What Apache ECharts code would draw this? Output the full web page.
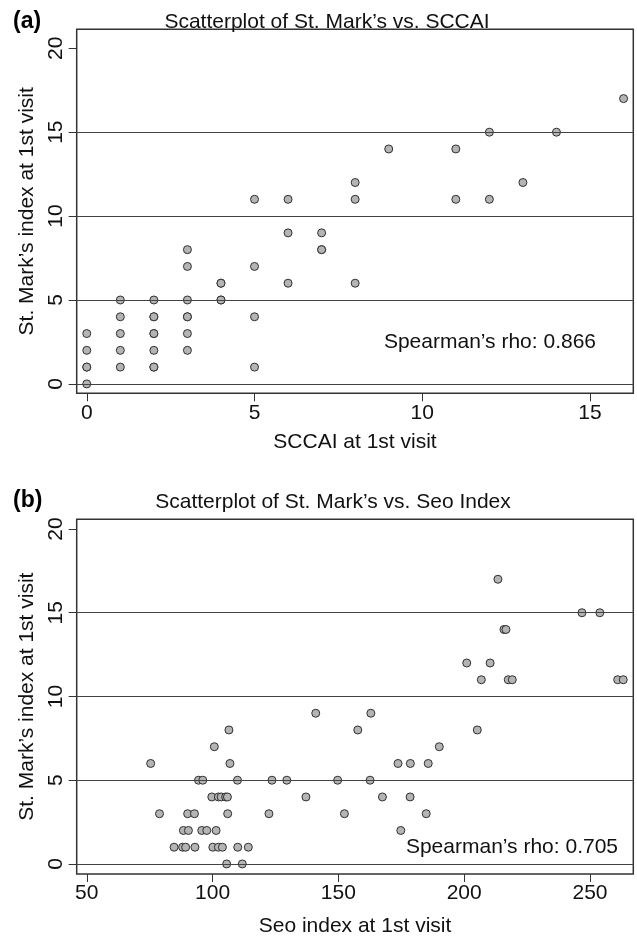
<!DOCTYPE html>
<html>
<head>
<meta charset="utf-8">
<script src="https://cdn.jsdelivr.net/npm/echarts@6/dist/echarts.min.js"></script>
<style>html,body{margin:0;padding:0;background:#fff}#c{width:637px;height:938px}</style>
</head>
<body>
<div id="c"></div>
<script>
// Panel (a): SCCAI vs St. Mark's index
const sccaiA   = [0,0,0,0,0, 1,1,1,1,1, 2,2,2,2,2,2,2,2, 3,3,3,3,3,3,3, 4,4,4,4, 5,5,5,5, 6,6,6, 7,7,7, 8,8,8, 9, 11,11, 12,12, 13, 14, 16];
const stMarkA  = [0,1,1,2,3, 1,2,3,4,5, 1,1,2,3,3,4,4,5, 2,3,4,4,5,7,8, 5,5,6,6, 1,4,7,11, 6,9,11, 8,8,9, 6,11,12, 14, 11,14, 11,15, 12, 15, 17];
// Panel (b): Seo index vs St. Mark's index
const seoB     = [213.4, 246.8,253.9, 215.8,216.6, 201.0,210.3, 206.8,217.5,219.1,261.0,263.2,
                  141.0,162.9, 106.5,157.7,205.2, 100.7,190.1, 75.4,106.9,173.7,178.6,185.7,
                  94.4,96.1,109.9,123.6,129.5,149.7,162.6,
                  99.7,102.3,103.4,105.2,105.9,137.1,167.5,178.5,
                  78.9,90.1,92.8,106.0,122.4,152.4,184.9,
                  88.4,90.4,95.7,97.7,101.4,174.8,
                  84.7,88.1,89.3,93.0,100.1,102.3,103.9,110.0,114.2,
                  105.6,111.8];
const stMarkB  = [17, 15,15, 14,14, 12,12, 11,11,11,11,11,
                  9,9, 8,8,8, 7,7, 6,6,6,6,6,
                  5,5,5,5,5,5,5,
                  4,4,4,4,4,4,4,4,
                  3,3,3,3,3,3,3,
                  2,2,2,2,2,2,
                  1,1,1,1,1,1,1,1,1,
                  0,0];
const yTicks   = [0,5,10,15,20];
const yGrid    = [0,5,10,15];
const xTicksA  = [0,5,10,15];
const xTicksB  = [50,100,150,200,250];
const titles   = ["Scatterplot of St. Mark\u2019s vs. SCCAI", "Scatterplot of St. Mark\u2019s vs. Seo Index"];
const xNames   = ["SCCAI at 1st visit", "Seo index at 1st visit"];
const yName    = "St. Mark\u2019s index at 1st visit";
const rhoText  = ["Spearman\u2019s rho: 0.866", "Spearman\u2019s rho: 0.705"];

const FONT = "'Liberation Sans', Arial, Helvetica, sans-serif";
const DARK = '#333';

function xAxisCfg(idx, min, max, ticks, name, gap){
  return {
    type:'value', gridIndex: idx, min:min, max:max, position:'bottom',
    name:name, nameLocation:'middle', nameGap:gap,
    nameTextStyle:{fontFamily:FONT, fontSize:21, color:'#111'},
    axisLine:{show:false, onZero:false},
    splitLine:{show:false},
    axisTick:{show:true, inside:false, length:8, lineStyle:{color:DARK, width:1}, customValues:ticks},
    axisLabel:{fontFamily:FONT, fontSize:21, color:'#111', margin:9, customValues:ticks}
  };
}
function yAxisCfg(idx, min, max){
  return {
    type:'value', gridIndex: idx, min:min, max:max, position:'left',
    name:yName, nameLocation:'middle', nameGap:38,
    nameTextStyle:{fontFamily:FONT, fontSize:21, color:'#111'},
    axisLine:{show:false, onZero:false},
    splitLine:{show:false},
    axisTick:{show:true, inside:false, length:8, lineStyle:{color:DARK, width:1}, customValues:yTicks},
    axisLabel:{fontFamily:FONT, fontSize:21, color:'#111', margin:10, rotate:90, customValues:yTicks}
  };
}
function pairs(xs, ys){ return xs.map((x,i)=>[x, ys[i]]); }
function gridSeries(idx){
  return {
    type:'scatter', xAxisIndex:idx, yAxisIndex:idx, data:[], z:1, silent:true,
    markLine:{silent:true, symbol:['none','none'], label:{show:false},
      lineStyle:{color:'#444', width:1, type:'solid'},
      data: yGrid.map(v=>({yAxis:v}))}
  };
}
function pointSeries(idx, xs, ys){
  return {
    type:'scatter', xAxisIndex:idx, yAxisIndex:idx, z:3,
    data: pairs(xs, ys), symbol:'circle', symbolSize:8,
    itemStyle:{color:'#b4b4b4', borderColor:'#303030', borderWidth:1, opacity:1}
  };
}

const chart = echarts.init(document.getElementById('c'), null, {renderer:'canvas'});
chart.setOption({
  animation:false,
  backgroundColor:'#fff',
  grid:[
    {left:76.7, right:3.7, top:29.3, height:364, show:true, borderColor:DARK, borderWidth:1.5, backgroundColor:'transparent'},
    {left:76.7, right:3.7, top:519.3, height:354.7, show:true, borderColor:DARK, borderWidth:1.5, backgroundColor:'transparent'}
  ],
  xAxis:[
    xAxisCfg(0, -0.3, 16.29, xTicksA, xNames[0], 38),
    xAxisCfg(1, 46.0, 267.2, xTicksB, xNames[1], 42)
  ],
  yAxis:[
    yAxisCfg(0, -0.56, 21.13),
    yAxisCfg(1, -0.6, 20.58)
  ],
  series:[
    gridSeries(0), pointSeries(0, sccaiA, stMarkA),
    gridSeries(1), pointSeries(1, seoB, stMarkB)
  ],
  graphic:[
    {type:'text', left:13, top:10, style:{text:'(a)', font:"bold 23px "+FONT, fill:'#000'}},
    {type:'text', left:13, top:489, style:{text:'(b)', font:"bold 23px "+FONT, fill:'#000'}},
    {type:'text', x:327, y:22, style:{text:titles[0], font:"21px "+FONT, fill:'#111', align:'center', verticalAlign:'middle'}},
    {type:'text', x:333, y:502, style:{text:titles[1], font:"21px "+FONT, fill:'#111', align:'center', verticalAlign:'middle'}},
    {type:'text', x:596, y:342, z:10, style:{text:rhoText[0], font:"21px "+FONT, fill:'#111', align:'right', verticalAlign:'middle'}},
    {type:'text', x:618, y:847, z:10, style:{text:rhoText[1], font:"21px "+FONT, fill:'#111', align:'right', verticalAlign:'middle'}}
  ]
});
</script>
</body>
</html>
